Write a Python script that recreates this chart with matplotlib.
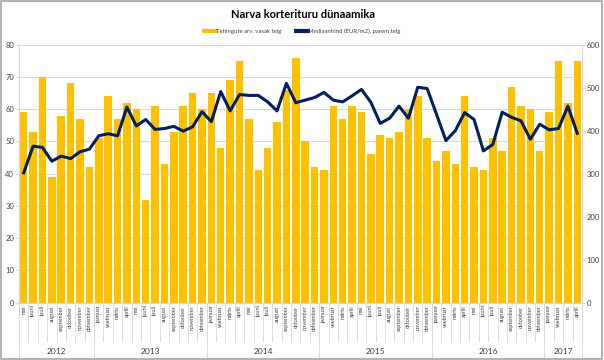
import matplotlib.pyplot as plt
from matplotlib.lines import Line2D
from matplotlib.patches import Rectangle
import numpy as np

plt.rcParams['font.family'] = ['Lato', 'DejaVu Sans']

# Months (mai 2012 - aprill 2017)
months_all = ['jaanuar', 'veebruar', 'märts', 'aprill', 'mai', 'juuni', 'juuli',
              'august', 'september', 'oktoober', 'november', 'detsember']
years = ['2012', '2013', '2014', '2015', '2016', '2017']
year_lengths = [8, 12, 12, 12, 12, 4]
month_labels = months_all[4:] + months_all * 4 + months_all[:4]

# Number of transactions (left axis)
deals = [59, 53, 70, 39, 58, 68, 57, 42,
         51, 64, 57, 62, 60, 32, 61, 43, 53, 61, 65, 60,
         65, 48, 69, 75, 57, 41, 48, 56, 66, 76, 50, 42,
         41, 61, 57, 61, 59, 46, 52, 51, 53, 60, 64, 51,
         44, 47, 43, 64, 42, 41, 51, 47, 67, 61, 60, 47,
         59, 75, 62, 75]

# Median price EUR/m2 (right axis)
price = [302, 364, 361, 329, 341, 335, 351, 357,
         388, 393, 388, 455, 411, 426, 403, 405, 410, 399, 409, 444,
         421, 491, 446, 484, 482, 482, 467, 446, 510, 465, 471, 477,
         489, 471, 467, 481, 496, 466, 417, 429, 457, 429, 501, 498,
         438, 377, 400, 442, 426, 353, 368, 443, 431, 423, 380, 415,
         402, 405, 457, 394]

bar_color = '#FFC000'
line_color = '#002060'
grid_color = '#D9D9D9'

fig = plt.figure(figsize=(6.04, 3.6), dpi=100)
ax = fig.add_axes([0.0315, 0.159, 0.932, 0.717])
ax2 = ax.twinx()

x = np.arange(len(deals))
ax.bar(x, deals, width=0.8, color=bar_color, zorder=2)
ax2.plot(x, price, color=line_color, lw=2.2, zorder=3)

ax.set_xlim(-0.5, len(deals) - 0.5)
ax.set_ylim(0, 80)
ax.set_yticks(range(0, 81, 10))
ax2.set_ylim(0, 600)
ax2.set_yticks(range(0, 601, 100))

ax.grid(axis='y', color=grid_color, lw=0.8, zorder=0)
ax.set_axisbelow(True)

for a in (ax, ax2):
    for s in a.spines.values():
        s.set_color(grid_color)
        s.set_linewidth(0.8)
    a.spines['top'].set_visible(False)
    a.tick_params(axis='y', labelsize=5.5, length=2, color=grid_color,
                  labelcolor='#404040', pad=1.5)

ax.set_xticks(x)
ax.set_xticklabels(month_labels, rotation=90, fontsize=4.0, color='#404040')
ax.tick_params(axis='x', length=0, pad=2)

# month separators and year groups under the axis
trans = ax.get_xaxis_transform()
for i in range(len(deals) + 1):
    ax.plot([i - 0.5, i - 0.5], [0, -0.15], transform=trans, color=grid_color,
            lw=0.6, clip_on=False)
start = 0
for yr, n in zip(years, year_lengths):
    ax.plot([start - 0.5, start - 0.5], [0, -0.215], transform=trans,
            color=grid_color, lw=0.6, clip_on=False)
    ax.text(start + n / 2 - 0.5, -0.19, yr, transform=trans, ha='center',
            va='center', fontsize=6, color='#404040')
    start += n
ax.plot([start - 0.5, start - 0.5], [0, -0.215], transform=trans,
        color=grid_color, lw=0.6, clip_on=False)

fig.text(0.501, 0.96, 'Narva korterituru dünaamika', ha='center', va='center',
         fontsize=8, fontweight='bold', color='#000000')

handles = [Line2D([], [], color=bar_color, lw=3),
           Line2D([], [], color=line_color, lw=3)]
fig.legend(handles, ['Tehingute arv, vasak telg', 'Mediaanhind (EUR/m2), parem telg'],
           loc='center', bbox_to_anchor=(0.5, 0.913), ncol=2, frameon=False,
           fontsize=4.3, handlelength=2.0, handletextpad=0.05, columnspacing=2.4,
           labelcolor='#404040')

# chart area border
fig.patches.append(Rectangle((0.002, 0.003), 0.995, 0.993, transform=fig.transFigure,
                             fill=False, edgecolor='#A6A6A6', lw=1.2))

fig.savefig('out.png', dpi=100)
